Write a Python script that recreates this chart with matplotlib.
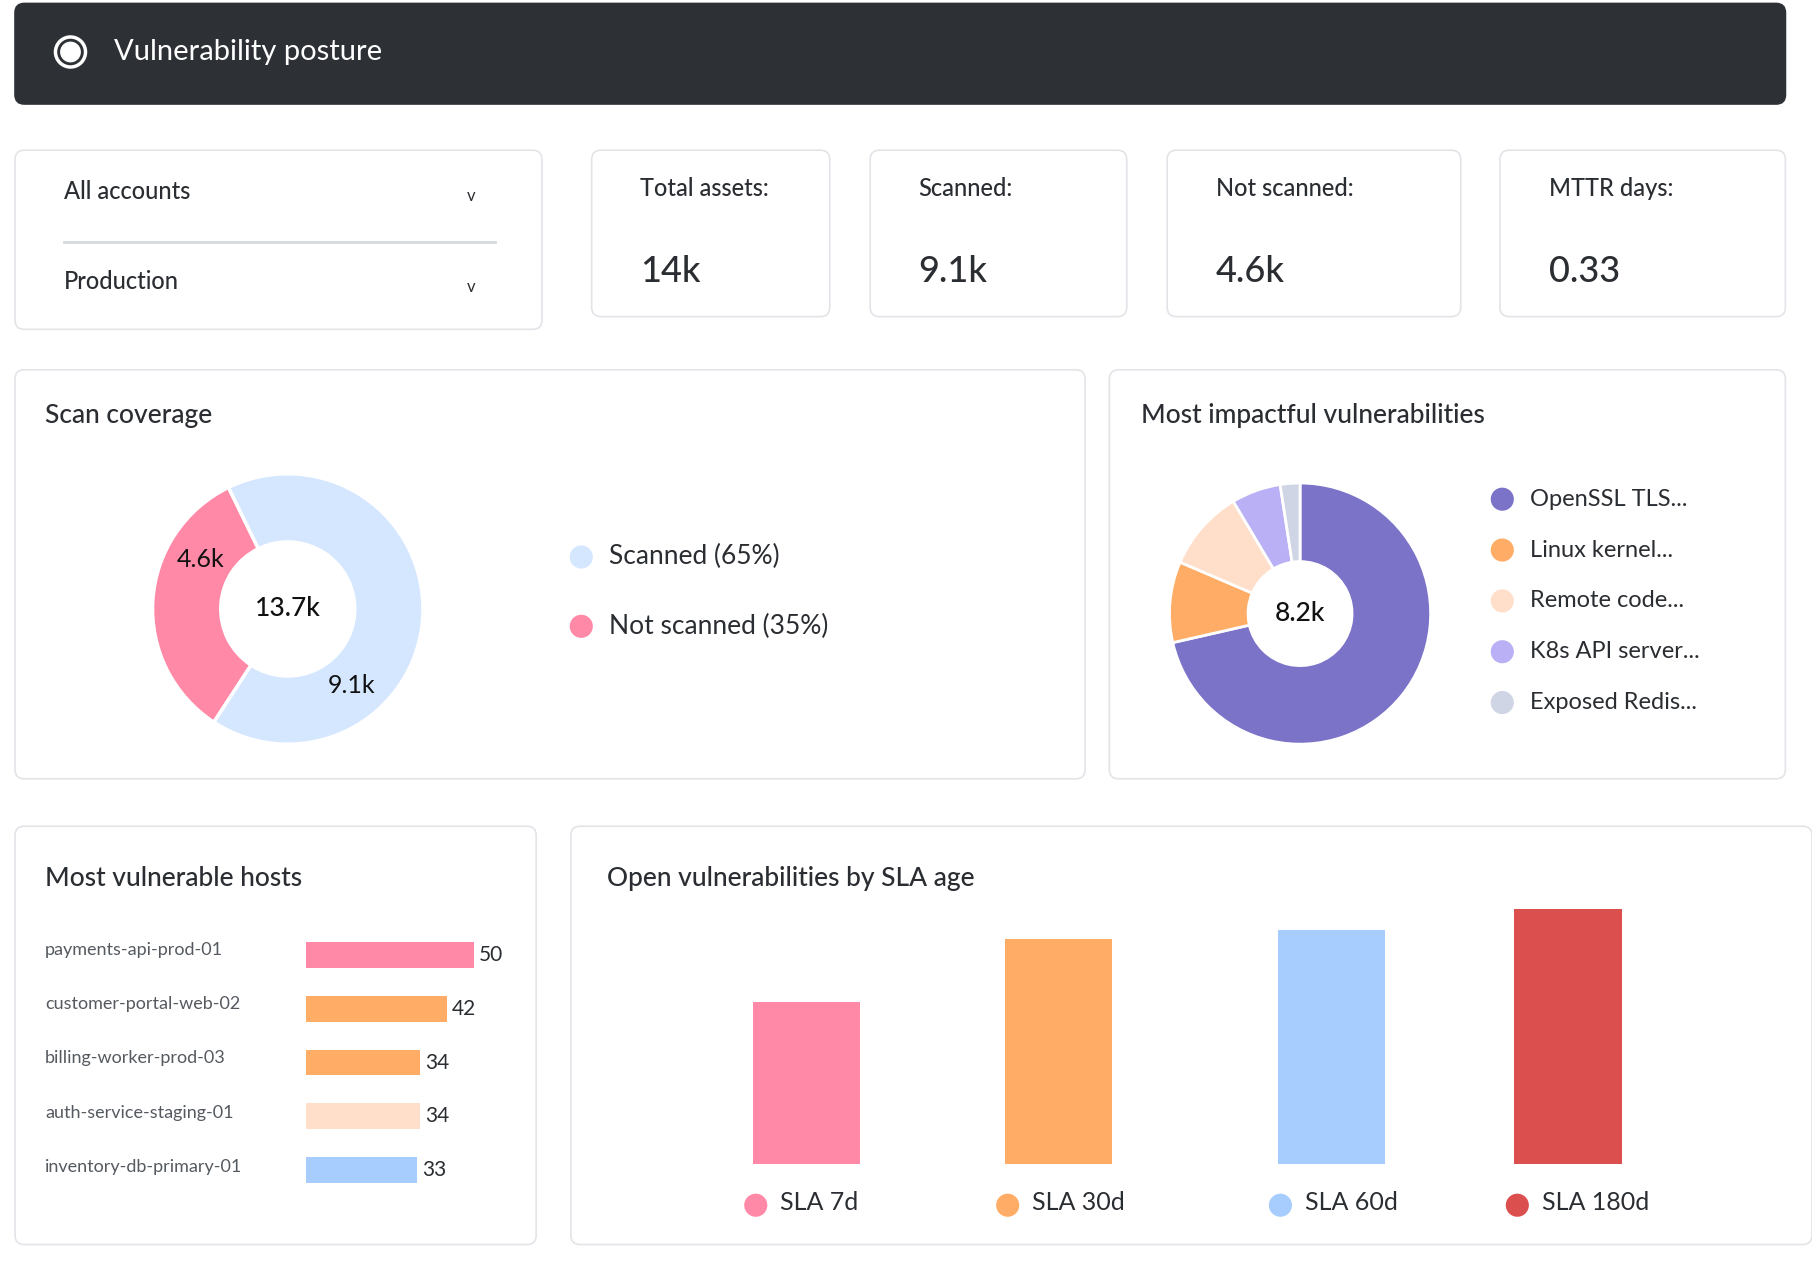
import matplotlib
matplotlib.use("Agg")
import matplotlib.pyplot as plt
from matplotlib.patches import FancyBboxPatch, Circle

plt.rcParams['font.family'] = ['Lato', 'DejaVu Sans']

kpi_labels = ["Total assets:", "Scanned:", "Not scanned:", "MTTR days:"]
kpi_values = ["14k", "9.1k", "4.6k", "0.33"]
scan_labels = ["Not scanned (35%)", "Scanned (65%)"]
scan_values = [4.6, 9.1]
scan_colors = ["#ff89a7", "#d4e7ff"]
vuln_labels = ["OpenSSL TLS...", "Linux kernel...", "Remote code...", "K8s API server...", "Exposed Redis..."]
vuln_values = [5.85, 0.82, 0.82, 0.5, 0.2]
vuln_colors = ["#7b73c8", "#ffad66", "#ffdfc9", "#b9b0f5", "#cfd5e5"]
hosts = ["payments-api-prod-01", "customer-portal-web-02", "billing-worker-prod-03",
         "auth-service-staging-01", "inventory-db-primary-01"]
host_values = [50, 42, 34, 34, 33]
host_colors = ["#ff89a7", "#ffad66", "#ffad66", "#ffdfc9", "#a6cdfd"]
sla_labels = ["SLA 7d", "SLA 30d", "SLA 60d", "SLA 180d"]
sla_values = [140, 194, 202, 220]
sla_colors = ["#ff89a7", "#ffad66", "#a6cdfd", "#dc4f4f"]

W, H = 1568, 1093
fig = plt.figure(figsize=(18.12, 12.63), dpi=100)
fig.patch.set_facecolor("white")
bg = fig.add_axes([0, 0, 1, 1], zorder=0)
bg.set_xlim(0, W); bg.set_ylim(H, 0); bg.axis("off")

def card(x0, y0, x1, y1, fc="white", ec="#e2e4e8"):
    bg.add_patch(FancyBboxPatch((x0, y0), x1 - x0, y1 - y0, boxstyle="round,pad=0,rounding_size=8",
                                fc=fc, ec=ec, lw=1.2))

def axbox(x0, y0, x1, y1):
    return fig.add_axes([x0 / W, 1 - y1 / H, (x1 - x0) / W, (y1 - y0) / H], zorder=2)

TXT = "#2a2d31"
# header
card(13, 3, 1545, 90, fc="#2d3136", ec="#2d3136")
bg.add_patch(Circle((61, 45), 13, fc="none", ec="white", lw=2.5))
bg.add_patch(Circle((61, 45), 9, fc="white", ec="none"))
bg.text(99, 45, "Vulnerability posture", color="white", fontsize=21, va="center")

# filters
card(13, 130, 469, 285)
bg.text(55, 166, "All accounts", fontsize=17, color=TXT, va="center", weight="medium")
bg.text(408, 170, "v", fontsize=12, color=TXT, ha="center", va="center")
bg.plot([55, 428], [209, 209], color="#d5d8de", lw=2)
bg.text(55, 244, "Production", fontsize=17, color=TXT, va="center", weight="medium")
bg.text(408, 248, "v", fontsize=12, color=TXT, ha="center", va="center")

# KPIs
kx = [(512, 718), (753, 975), (1010, 1264), (1298, 1545)]
for (a, b), l, v in zip(kx, kpi_labels, kpi_values):
    card(a, 130, b, 274)
    bg.text(a + 42, 163, l, fontsize=17, color=TXT, va="center", weight="medium")
    bg.text(a + 42, 235, v, fontsize=26, color=TXT, va="center", weight="medium")

# scan coverage
card(13, 320, 939, 674)
bg.text(39, 360, "Scan coverage", fontsize=19, color=TXT, va="center", weight="medium")
ax = axbox(249 - 125, 527 - 125, 249 + 125, 527 + 125)
ax.pie(scan_values, colors=scan_colors, startangle=116, counterclock=True, radius=117 / 125,
       wedgeprops=dict(width=59 / 125, edgecolor="white", linewidth=2.5))
ax.set_xlim(-1, 1); ax.set_ylim(-1, 1)
ax.text(0, 0, "13.7k", ha="center", va="center", fontsize=19, weight="medium", color="#111")
ax.text(-0.6, 0.34, "4.6k", ha="center", va="center", fontsize=18, color="#111")
ax.text(0.44, -0.53, "9.1k", ha="center", va="center", fontsize=18, color="#111")
for i, (l, c) in enumerate(zip(scan_labels[::-1], scan_colors[::-1])):
    y = 482 + 60 * i
    bg.add_patch(Circle((503, y), 10, fc=c, ec="none"))
    bg.text(527, y, l, fontsize=19, color=TXT, va="center")

# impactful
card(960, 320, 1545, 674)
bg.text(987, 360, "Most impactful vulnerabilities", fontsize=19, color=TXT, va="center", weight="medium")
ax = axbox(1125 - 120, 531 - 120, 1125 + 120, 531 + 120)
ax.pie(vuln_values, colors=vuln_colors, startangle=90, counterclock=False, radius=113 / 120,
       wedgeprops=dict(width=68 / 120, edgecolor="white", linewidth=2))
ax.set_xlim(-1, 1); ax.set_ylim(-1, 1)
ax.text(0, 0, "8.2k", ha="center", va="center", fontsize=19, weight="medium", color="#111")
for i, (l, c) in enumerate(zip(vuln_labels, vuln_colors)):
    y = 432 + 44 * i
    bg.add_patch(Circle((1300, y), 10, fc=c, ec="none"))
    bg.text(1324, y, l, fontsize=17, color=TXT, va="center")

# hosts
card(13, 715, 464, 1077)
bg.text(39, 760, "Most vulnerable hosts", fontsize=19, color=TXT, va="center", weight="medium")
ax = axbox(265, 803, 455, 1036)
ax.barh(range(len(hosts)), host_values, color=host_colors, height=0.48)
ax.set_ylim(len(hosts) - 0.5, -0.5); ax.set_xlim(0, 50 * 190 / 145)
ax.axis("off")
for i, (h, v) in enumerate(zip(hosts, host_values)):
    ax.text(v + 1.5, i, str(v), va="center", fontsize=15, color=TXT)
    bg.text(39, 822 + 47 * i, h, fontsize=13, color="#555a60", va="center")

# SLA
card(494, 715, 1568, 1077)
bg.text(525, 760, "Open vulnerabilities by SLA age", fontsize=19, color=TXT, va="center", weight="medium")
xs = [698, 916, 1152, 1357]
ax = axbox(494, 767, 1568, 1007)
ax.set_xlim(494, 1568); ax.set_ylim(0, 240)
ax.bar(xs, sla_values, width=93, color=sla_colors)
ax.axis("off")
for x, l, c in zip(xs, sla_labels, sla_colors):
    bg.add_patch(Circle((x - 44, 1043), 10, fc=c, ec="none"))
    bg.text(x - 23, 1041, l, fontsize=18, color=TXT, va="center")

fig.savefig("out.png", dpi=100)
